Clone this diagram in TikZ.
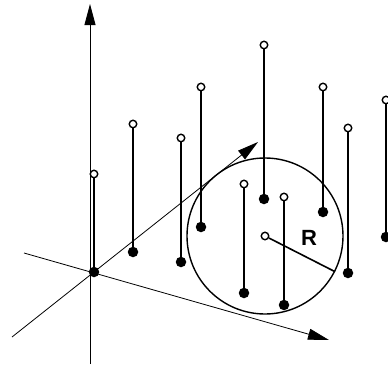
\documentclass[tikz,border=0pt]{standalone}
\usepackage{fontspec}
\setmainfont{Liberation Sans}
\usetikzlibrary{arrows.meta}

\tikzset{
  axis/.style={line width=0.8pt,-{Triangle[length=21pt,width=11pt]}},
  stem/.style={line width=1.8pt},
  full/.style={circle,fill=black,inner sep=0pt,minimum size=10.5pt},
  hollow/.style={circle,draw=black,fill=white,line width=1.4pt,inner sep=0pt,minimum size=7.5pt},
}

\begin{document}
\begin{tikzpicture}[x=1pt,y=-1pt]
\useasboundingbox (0,0) rectangle (388,364);

\coordinate (zb) at (90,364);
\coordinate (zt) at (90,4);
\coordinate (xb) at (12,337);
\coordinate (xt) at (258,142);
\coordinate (yb) at (24,253);
\coordinate (yt) at (329,340);

\draw[axis] (zb)--(zt);
\draw[axis] (xb)--(xt);
\draw[axis] (yb)--(yt);

\node[circle,draw,line width=1.4pt,inner sep=0pt,minimum size=156pt] (ball) at (265,236) {};

\foreach \n/\x/\ylo/\yhi in {1/94/272/174, 2/133/252/124, 3/181/262/138, 4/201/227/87,
  5/264/199/45, 6/244/293/184, 7/284/305/197, 8/323/212/87, 9/348/273/128, 10/386/237/100}{
    \node[full] (b\n) at (\x,\ylo) {};
    \node[hollow] (t\n) at (\x,\yhi) {};
    \draw[stem] (b\n)--(t\n);
}

\node[hollow] (c) at (265,236) {};
\draw[line width=1.6pt] (c)--(ball.-27);
\node[font=\bfseries\fontsize{22}{22}\selectfont] (R) at (309,238) {R};
\end{tikzpicture}
\end{document}
